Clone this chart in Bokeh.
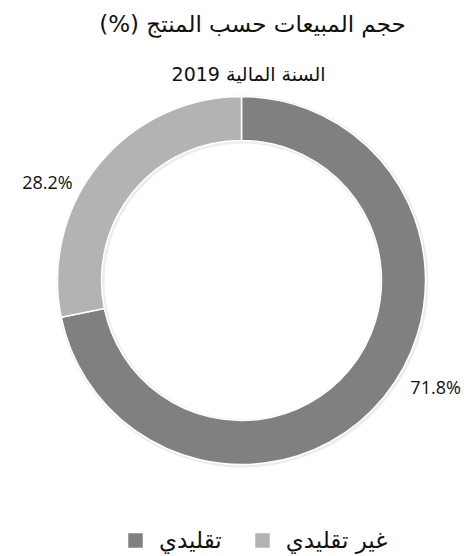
import math
from bokeh.plotting import figure
from bokeh.models import Range1d, ColumnDataSource, Legend, LegendItem
from bokeh.core.properties import value
from bokeh.embed import file_html
from bokeh.resources import INLINE

# ---- data ----
title_text = "حجم المبيعات حسب المنتج (%)\u200f"
subtitle_text = "السنة المالية 2019"
categories = ["تقليدي", "غير تقليدي"]
shares = [71.8, 28.2]
colors = ["#808080", "#b3b3b3"]

W, H = 464, 556
p = figure(width=W, height=H, x_range=Range1d(0, W), y_range=Range1d(0, H),
           output_backend="svg", toolbar_location=None, min_border=0,
           x_axis_type=None, y_axis_type=None)
p.grid.visible = False
p.outline_line_color = None
p.background_fill_color = "white"
p.border_fill_color = "white"

cx, cy = 241, H - 280
r_out, r_in = 184, 140

total = sum(shares)
starts, ends, mids = [], [], []
cum = 0.0
for s in shares:
    a0 = math.pi / 2 - 2 * math.pi * cum / total
    cum += s
    a1 = math.pi / 2 - 2 * math.pi * cum / total
    starts.append(a0)
    ends.append(a1)
    mids.append((a0 + a1) / 2)

# faint shadow ring
p.annulus(x=[cx + 1], y=[cy - 1], inner_radius=r_in - 2, outer_radius=r_out + 2,
          fill_color="black", fill_alpha=0.07, line_color=None)

src = ColumnDataSource(dict(x=[cx] * len(shares), y=[cy] * len(shares),
                            start=starts, end=ends, color=colors, cat=categories))
wedges = p.annular_wedge(x="x", y="y", inner_radius=r_in, outer_radius=r_out,
                         start_angle="start", end_angle="end", direction="clock",
                         fill_color="color", line_color="white", line_width=1.5,
                         source=src)

# data labels
lx, ly, la, lt = [], [], [], []
for s, m in zip(shares, mids):
    c = math.cos(m)
    lx.append(cx + 218 * c)
    ly.append(cy + 0.88 * r_out * math.sin(m) - 4)
    la.append("left" if c >= 0 else "right")
    lt.append(f"{s:.1f}%")
p.text(x=lx, y=ly, text=lt, text_align=la, text_baseline="middle",
       text_font=value("Open Sans"), text_font_size="18px", text_color="#111111")

# title and subtitle
p.text(x=[252], y=[H - 23], text=[title_text], text_align="center",
       text_baseline="middle", text_font=value("DejaVu Sans"),
       text_font_size="23px", text_color="#111111")
p.text(x=[248], y=[H - 73], text=[subtitle_text], text_align="center",
       text_baseline="middle", text_font=value("DejaVu Sans"),
       text_font_size="19px", text_color="#111111")

items = [LegendItem(label=categories[i], renderers=[wedges], index=i)
         for i in range(len(categories))]
legend = Legend(items=items, orientation="horizontal", location=(125, 3),
                glyph_width=20, glyph_height=20, label_text_font_size="23px",
                label_text_font="DejaVu Sans", label_text_color="#111111",
                label_standoff=14, spacing=30, border_line_color=None,
                background_fill_alpha=0, margin=0, padding=0)
p.add_layout(legend)

open("out.html", "w").write(file_html(p, INLINE))
